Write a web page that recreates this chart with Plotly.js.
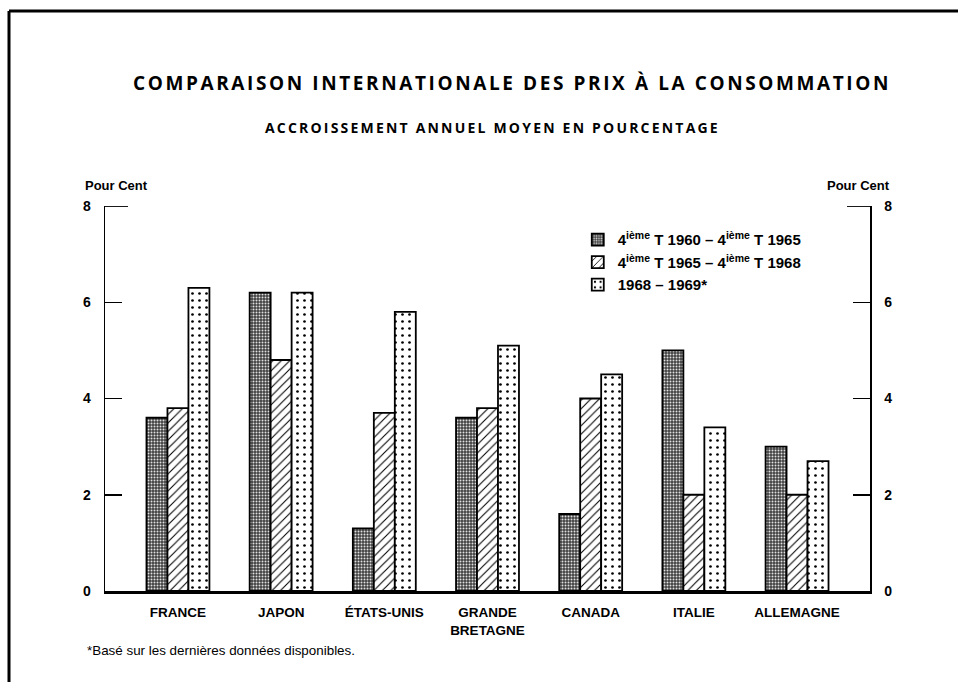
<!DOCTYPE html>
<html>
<head>
<meta charset="utf-8">
<script src="https://cdn.plot.ly/plotly-3.0.1.min.js"></script>
<style>
  html, body { margin: 0; padding: 0; background: #fff; }
  #chart { width: 958px; height: 682px; }
  .gtitle { letter-spacing: 2.6px; }
  g.annotation[data-index="0"] text { letter-spacing: 2.2px; }
</style>
</head>
<body>
<div id="chart"></div>
<script>
const categories = ["FRANCE", "JAPON", "ÉTATS-UNIS", "GRANDE<br>BRETAGNE", "CANADA", "ITALIE", "ALLEMAGNE"];
const series1Name = "4<sup>ième</sup> T 1960 – 4<sup>ième</sup> T 1965";
const series2Name = "4<sup>ième</sup> T 1965 – 4<sup>ième</sup> T 1968";
const series3Name = "1968 – 1969*";
const series1 = [3.6, 6.2, 1.3, 3.6, 1.6, 5.0, 3.0];
const series2 = [3.8, 4.8, 3.7, 3.8, 4.0, 2.0, 2.0];
const series3 = [6.3, 6.2, 5.8, 5.1, 4.5, 3.4, 2.7];
const yTicks = [0, 2, 4, 6, 8];

const labelFont = {family: "Liberation Sans, Arial, sans-serif", size: 14, color: "#000", weight: 700};
const lineStyle = {color: "#000", width: 1.8};

const traces = [
  {type: "bar", name: series1Name, x: categories, y: series1,
   marker: {color: "#555", line: lineStyle,
            pattern: {shape: ".", fgcolor: "#e0e0e0", bgcolor: "#404040", size: 3, solidity: 0.35}}},
  {type: "bar", name: series2Name, x: categories, y: series2,
   marker: {color: "#fff", line: lineStyle,
            pattern: {shape: "/", fgcolor: "#000", bgcolor: "#fff", size: 6, solidity: 0.18}}},
  {type: "bar", name: series3Name, x: categories, y: series3,
   marker: {color: "#fff", line: lineStyle,
            pattern: {shape: ".", fgcolor: "#000", bgcolor: "#fff", size: 7, solidity: 0.12}}}
];

const layout = {
  width: 958, height: 682,
  paper_bgcolor: "#fff", plot_bgcolor: "#fff",
  margin: {l: 105, r: 88, t: 206, b: 91},
  barmode: "group", bargap: 0.39, bargroupgap: 0,
  showlegend: true,
  legend: {x: 0.618, y: 0.955, xanchor: "left", yanchor: "top",
           font: {family: "Liberation Sans, Arial, sans-serif", size: 15, color: "#000", weight: 700},
           bgcolor: "rgba(255,255,255,0)", borderwidth: 0, tracegroupgap: 0},
  title: {text: "COMPARAISON INTERNATIONALE DES PRIX À LA CONSOMMATION",
          font: {family: "Open Sans, Liberation Sans, sans-serif", size: 19, color: "#000", weight: 700},
          x: 512 / 958, xref: "container", xanchor: "center", y: 1 - 83/682, yref: "container", yanchor: "middle"},
  xaxis: {type: "category", range: [-0.707, 6.707], showgrid: false, zeroline: false,
          showline: true, linewidth: 3, linecolor: "#000", ticks: "",
          tickfont: {family: "Liberation Sans, Arial, sans-serif", size: 13.5, color: "#000", weight: 700},
          ticklabelstandoff: 7, fixedrange: true},
  yaxis: {range: [0, 8], tickvals: yTicks, ticktext: yTicks.map(String), showgrid: false, zeroline: false,
          showline: true, linewidth: 1.5, linecolor: "#000", ticks: "inside", ticklen: 17, tickwidth: 1.5,
          tickcolor: "#000", tickfont: labelFont, ticklabelstandoff: 10, fixedrange: true},
  yaxis2: {range: [0, 8], tickvals: yTicks, ticktext: yTicks.map(String), overlaying: "y", side: "right",
           showgrid: false, zeroline: false, showline: true, linewidth: 1.5, linecolor: "#000",
           ticks: "inside", ticklen: 17, tickwidth: 1.5, tickcolor: "#000", tickfont: labelFont,
           ticklabelstandoff: 10, fixedrange: true},
  annotations: [
    {text: "ACCROISSEMENT ANNUEL MOYEN EN POURCENTAGE", xref: "paper", yref: "paper",
     x: (492 - 105) / 765, y: (591 - 127) / 385, xanchor: "center", yanchor: "middle", showarrow: false,
     font: {family: "Open Sans, Liberation Sans, sans-serif", size: 14, color: "#000", weight: 700}},
    {text: "Pour Cent", xref: "paper", yref: "paper", x: -22 / 765, y: (591 - 185) / 385,
     xanchor: "left", yanchor: "middle", showarrow: false,
     font: {family: "Liberation Sans, Arial, sans-serif", size: 13, color: "#000", weight: 700}},
    {text: "Pour Cent", xref: "paper", yref: "paper", x: 1 + 22 / 765, y: (591 - 185) / 385,
     xanchor: "right", yanchor: "middle", showarrow: false,
     font: {family: "Liberation Sans, Arial, sans-serif", size: 13, color: "#000", weight: 700}},
    {text: "*Basé sur les dernières données disponibles.", xref: "paper", yref: "paper",
     x: -20 / 765, y: (591 - 650) / 385, xanchor: "left", yanchor: "middle", showarrow: false,
     font: {family: "Liberation Sans, Arial, sans-serif", size: 13.4, color: "#000"}}
  ],
  shapes: [
    {type: "line", xref: "paper", yref: "y", x0: 0, x1: 23 / 765, y0: 8, y1: 8, line: lineStyle},
    {type: "line", xref: "paper", yref: "y", x0: 1 - 23 / 765, x1: 1, y0: 8, y1: 8, line: lineStyle},
    {type: "line", xref: "paper", yref: "paper", x0: -96 / 765, x1: 853 / 765,
     y0: (591 - 11) / 385, y1: (591 - 11) / 385, line: {color: "#000", width: 3}},
    {type: "line", xref: "paper", yref: "paper", x0: -96 / 765, x1: -96 / 765,
     y0: (591 - 11) / 385, y1: (591 - 690) / 385, line: {color: "#000", width: 3}}
  ]
};

traces.push({type: "bar", x: [categories[0]], y: [0], yaxis: "y2", showlegend: false,
             hoverinfo: "skip", marker: {color: "rgba(0,0,0,0)", line: {width: 0}}});

Plotly.newPlot("chart", traces, layout, {staticPlot: true, displayModeBar: false});
</script>
</body>
</html>
